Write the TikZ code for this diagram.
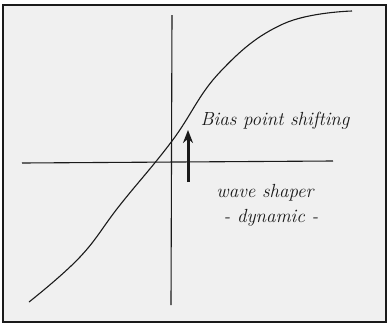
\documentclass[tikz,border=0pt]{standalone}
\usepackage{xcolor}
\usetikzlibrary{arrows.meta}
\definecolor{paper}{HTML}{F0F0F0}
\definecolor{ink}{HTML}{1A1A1A}

\begin{document}
\begin{tikzpicture}[x=1pt, y=-1pt, >=stealth, line width=1.1pt, ink]
      \useasboundingbox (0,0) rectangle (389,325);
      \draw[fill=paper, line width=1.4pt] (3,5) rectangle (386,322);
      % axes
      \coordinate (ytop) at (172,15);
      \coordinate (ybot) at (171,305);
      \coordinate (xleft) at (22,163);
      \coordinate (xright) at (333,161);
      \draw (ytop) -- (ybot);
      \draw (xleft) -- (xright);
      % transfer curve
      \draw plot[smooth, tension=0.7] coordinates {(29,302) (80,257) (120,205)
        (172,141) (220,72) (283,24) (352,11)};
      % shift of the bias point
      \coordinate (shiftlow) at (188,182);
      \coordinate (shifthigh) at (188,130);
      \draw[-{Stealth[length=13pt, width=10pt]}, line width=3pt] (shiftlow) -- (shifthigh);
      \node[font=\fontsize{19}{22}\selectfont\itshape] (bias) at (275,121) {Bias point shifting};
      \node[font=\fontsize{19}{22}\selectfont\itshape] (shaper) at (265,193) {wave shaper};
      \node[font=\fontsize{19}{22}\selectfont\itshape] (dyn) at (271,218) {- dynamic -};
    \end{tikzpicture}
\end{document}
